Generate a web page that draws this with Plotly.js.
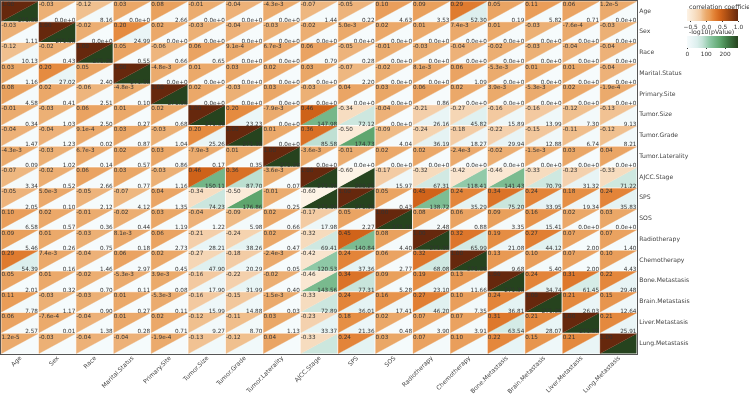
<!DOCTYPE html>
<html><head><meta charset="utf-8">
<script src="https://cdn.plot.ly/plotly-3.0.1.min.js"></script>
<style>html,body{margin:0;padding:0;background:#fff;overflow:hidden}#chart{filter:blur(0.3px)}</style>
</head><body><div id="chart" style="width:749px;height:396px"></div>
<script>
const variables = ["Age","Sex","Race","Marital.Status","Primary.Site","Tumor.Size","Tumor.Grade","Tumor.Laterality","AJCC.Stage","SPS","SOS","Radiotherapy","Chemotherapy","Bone.Metastasis","Brain.Metastasis","Liver.Metastasis","Lung.Metastasis"];
const Z = "0.0e+0";
const corrLabels = [
["1.00","-0.03","-0.12","0.03","0.08","-0.01","-0.04","-4.3e-3","-0.07","-0.05","0.10","0.09","0.29","0.05","0.11","0.06","1.2e-5"],
["-0.03","1.00","-0.02","0.20","0.02","-0.03","-0.04","-0.03","-0.02","5.0e-3","0.02","0.01","7.4e-3","0.01","-0.03","-7.6e-4","-0.03"],
["-0.12","-0.02","1.00","0.05","-0.06","0.06","9.1e-4","6.7e-3","0.06","-0.05","-0.01","-0.03","-0.04","-0.02","-0.03","-0.04","-0.04"],
["0.03","0.20","0.05","1.00","-4.8e-3","0.01","0.03","0.02","0.03","-0.07","-0.02","8.1e-3","0.06","-5.3e-3","0.01","0.01","-0.04"],
["0.08","0.02","-0.06","-4.8e-3","1.00","0.02","-0.03","0.03","-0.03","0.04","0.03","0.06","0.02","3.9e-3","-5.3e-3","0.02","-1.9e-4"],
["-0.01","-0.03","0.06","0.01","0.02","1.00","0.20","-7.9e-3","0.46","-0.34","-0.04","-0.21","-0.27","-0.16","-0.16","-0.12","-0.13"],
["-0.04","-0.04","9.1e-4","0.03","-0.03","0.20","1.00","0.01","0.36","-0.50","-0.09","-0.24","-0.18","-0.22","-0.15","-0.11","-0.12"],
["-4.3e-3","-0.03","6.7e-3","0.02","0.03","-7.9e-3","0.01","1.00","-3.6e-3","-0.01","0.02","0.02","-2.4e-3","-0.02","-1.5e-3","0.03","0.04"],
["-0.07","-0.02","0.06","0.03","-0.03","0.46","0.36","-3.6e-3","1.00","-0.60","-0.17","-0.32","-0.42","-0.46","-0.33","-0.23","-0.33"],
["-0.05","5.0e-3","-0.05","-0.07","0.04","-0.34","-0.50","-0.01","-0.60","1.00","0.05","0.45","0.24","0.34","0.24","0.18","0.24"],
["0.10","0.02","-0.01","-0.02","0.03","-0.04","-0.09","0.02","-0.17","0.05","1.00","0.08","0.06","0.09","0.16","0.02","0.03"],
["0.09","0.01","-0.03","8.1e-3","0.06","-0.21","-0.24","0.02","-0.32","0.45","0.08","1.00","0.32","0.19","0.27","0.07","0.07"],
["0.29","7.4e-3","-0.04","0.06","0.02","-0.27","-0.18","-2.4e-3","-0.42","0.24","0.06","0.32","1.00","0.13","0.10","0.07","0.10"],
["0.05","0.01","-0.02","-5.3e-3","3.9e-3","-0.16","-0.22","-0.02","-0.46","0.34","0.09","0.19","0.13","1.00","0.24","0.31","0.22"],
["0.11","-0.03","-0.03","0.01","-5.3e-3","-0.16","-0.15","-1.5e-3","-0.33","0.24","0.16","0.27","0.10","0.24","1.00","0.21","0.15"],
["0.06","-7.6e-4","-0.04","0.01","0.02","-0.12","-0.11","0.03","-0.23","0.18","0.02","0.07","0.07","0.31","0.21","1.00","0.21"],
["1.2e-5","-0.03","-0.04","-0.04","-1.9e-4","-0.13","-0.12","0.04","-0.33","0.24","0.03","0.07","0.10","0.22","0.15","0.21","1.00"]
];
const pLabels = [
["271.38",Z,"8.16",Z,"2.66",Z,Z,Z,"1.44","0.22","4.63","3.53","52.30","0.19","5.82","0.71",Z],
["1.11","271.38",Z,"24.99",Z,Z,Z,Z,Z,Z,Z,Z,Z,Z,Z,Z,Z],
["10.13","0.43","271.38","0.55","0.66","0.65",Z,Z,"0.79","0.28",Z,Z,Z,Z,Z,Z,Z],
["1.16","27.02","2.40","271.38",Z,Z,Z,Z,Z,"2.20",Z,Z,"1.09",Z,Z,Z,Z],
["4.58","0.41","2.51","0.10","271.38",Z,Z,Z,Z,Z,Z,"0.86",Z,Z,Z,Z,Z],
["0.34","1.03","2.50","0.27","0.68","271.38","23.23",Z,"147.98","72.12",Z,"26.16","45.82","15.89","13.99","7.30","9.13"],
["1.47","1.23","0.02","0.87","1.04","25.26","271.38",Z,"85.58","174.73","4.04","36.19","18.27","29.94","12.88","6.74","8.21"],
["0.09","1.02","0.14","0.57","0.86","0.17","0.35","271.38",Z,Z,Z,Z,Z,Z,Z,Z,Z],
["3.34","0.52","2.66","0.77","1.16","150.11","87.70","0.07","271.38","269.25","15.97","67.31","118.41","141.43","70.79","31.32","71.22"],
["2.05","0.10","2.12","4.12","1.35","74.23","176.86","0.25","271.38","271.38","0.43","138.72","35.29","75.20","33.95","19.34","35.83"],
["6.58","0.57","0.36","0.44","1.19","1.22","5.98","0.66","17.98","2.27","271.38","2.48","0.88","3.35","15.41",Z,Z],
["5.46","0.26","0.75","0.18","2.73","28.21","38.26","0.47","69.41","140.84","4.40","271.38","65.99","21.08","44.12","2.00","1.40"],
["54.39","0.16","1.46","2.97","0.45","47.90","20.29","0.05","120.53","37.36","2.77","68.08","271.38","9.68","5.40","2.00","4.43"],
["2.01","0.32","0.70","0.11","0.08","17.90","31.99","0.40","143.56","77.31","5.28","23.10","11.66","271.38","34.74","61.45","29.48"],
["7.78","1.17","0.90","0.27","0.11","15.99","14.88","0.03","72.89","36.01","17.41","46.20","7.35","36.81","271.38","26.03","12.64"],
["2.57","0.01","1.38","0.28","0.71","9.27","8.70","1.13","33.37","21.36","0.48","3.90","3.91","63.54","28.07","271.38","25.91"],
["2.3e-4","0.83","1.36","1.47","3.5e-3","11.11","10.19","1.66","73.32","37.90","1.08","3.29","6.38","31.53","14.63","27.95","271.38"]
];
const corrRange = [-0.6, 1.0];
const pRange = [0, 271.38];
const corrScale = [[0,"#fdf3e6"],[0.15,"#f7dfc4"],[0.27,"#f3cba3"],[0.3,"#f0c08f"],[0.375,"#ebaa6c"],[0.44,"#e99e5a"],[0.5,"#e58b40"],[0.56,"#df7a2e"],[0.66,"#cf6219"],[0.8,"#a54a12"],[1,"#66280d"]];
const pScale = [[0,"#f6fbfc"],[0.1,"#e9f5f6"],[0.2,"#dcefed"],[0.3,"#c5e3d8"],[0.45,"#8cc7a4"],[0.55,"#74b688"],[0.65,"#5ea56d"],[0.8,"#3f7a45"],[1,"#26431e"]];
const font = "DejaVu Sans, sans-serif";

function hex(c){return [1,3,5].map(i=>parseInt(c.substr(i,2),16));}
function colorAt(scale,v,range){
  const t=Math.max(0,Math.min(1,(v-range[0])/(range[1]-range[0])));
  for(let i=1;i<scale.length;i++){
    if(t<=scale[i][0]){
      const f=(t-scale[i-1][0])/(scale[i][0]-scale[i-1][0]);
      const a=hex(scale[i-1][1]),b=hex(scale[i][1]);
      return "rgb("+a.map((q,k)=>Math.round(q+(b[k]-q)*f)).join(",")+")";
    }
  }
  return scale[scale.length-1][1];
}
const n=variables.length, gapX=0.014, gapY=0.024;
const pxX=1/37.44, pxY=1/20.76;
const traces=[];
const txC={x:[],y:[],text:[]}, txP={x:[],y:[],text:[]};
for(let r=0;r<n;r++){for(let c=0;c<n;c++){
  const x0=c+gapX,x1=c+1-gapX,y0=r+gapY,y1=r+1-gapY;
  const cp=colorAt(pScale,Number(pLabels[r][c]),pRange), cc=colorAt(corrScale,Number(corrLabels[r][c]),corrRange);
  traces.push({type:"scatter",mode:"lines",x:[x1,x1,x0,x1],y:[y0,y1,y1,y0],fill:"toself",
    fillcolor:cp,line:{width:0},hoverinfo:"skip",showlegend:false});
  traces.push({type:"scatter",mode:"lines",x:[x0,x1,x0,x0],y:[y0,y0,y1,y0],fill:"toself",
    fillcolor:cc,line:{width:0.4,color:cc},hoverinfo:"skip",showlegend:false});
  txC.x.push(c+0.5*pxX);txC.y.push(r+1*pxY);txC.text.push(corrLabels[r][c]);
  txP.x.push(c+1-0.5*pxX);txP.y.push(r+1+1.5*pxY);txP.text.push(pLabels[r][c]);
}}
const txtFont={family:font,size:5.7,color:"#333"};
traces.push({type:"scatter",mode:"text",x:txC.x,y:txC.y,text:txC.text,textposition:"bottom right",textfont:txtFont,cliponaxis:false,hoverinfo:"skip",showlegend:false});
traces.push({type:"scatter",mode:"text",x:txP.x,y:txP.y,text:txP.text,textposition:"top left",textfont:txtFont,cliponaxis:false,hoverinfo:"skip",showlegend:false});
const cbBase={orientation:"h",xanchor:"left",yanchor:"top",xref:"paper",yref:"paper",thickness:11.5,thicknessmode:"pixels",lenmode:"pixels",len:51,outlinewidth:0,
  ticks:"outside",ticklen:1.5,tickwidth:1,tickcolor:"#333",tickfont:{family:font,size:5.8,color:"#333"},xpad:0,ypad:0};
const cbX=(688-1)/636.5;
traces.push({type:"scatter",mode:"markers",x:txC.x,y:txC.y,hoverinfo:"skip",showlegend:false,
  marker:{size:1,opacity:0,color:corrLabels.flat().map(Number),colorscale:corrScale,cmin:corrRange[0],cmax:corrRange[1],showscale:true,
    colorbar:Object.assign({},cbBase,{x:cbX,y:1-8/353,tickvals:[-0.5,0,0.5,1],ticktext:["−0.5","0.0","0.5","1.0"]})}});
traces.push({type:"scatter",mode:"markers",x:txC.x,y:txC.y,hoverinfo:"skip",showlegend:false,
  marker:{size:1,opacity:0,color:pLabels.flat().map(Number),colorscale:pScale,cmin:pRange[0],cmax:pRange[1],showscale:true,
    colorbar:Object.assign({},cbBase,{x:cbX,y:1-35/353,tickvals:[0,100,200],ticktext:["0","100","200"]})}});
const centers=variables.map((_,i)=>i+0.5);
const annoBase={xref:"paper",yref:"paper",xanchor:"left",yanchor:"middle",showarrow:false,x:cbX,font:{family:font,size:6.2,color:"#333"}};
const layout={width:749,height:396,margin:{l:1,r:111.5,t:1,b:42,pad:0},paper_bgcolor:"#fff",plot_bgcolor:"#fff",showlegend:false,
  font:{family:font,color:"#333"},
  annotations:[Object.assign({},annoBase,{text:"correlation coefficient",y:1-5/353}),Object.assign({},annoBase,{text:"-log10(pValue)",y:1-31/353})],
  xaxis:{range:[0,n],tickvals:centers,ticktext:variables,tickangle:-45,ticks:"",ticklabelstandoff:-3,showgrid:false,zeroline:false,showline:true,mirror:true,linecolor:"#555",linewidth:1,layer:"above traces",tickfont:{family:font,size:6.1,color:"#444"}},
  yaxis:{range:[n,0],side:"right",tickvals:centers,ticktext:variables,ticks:"",ticklabelshift:1,showgrid:false,zeroline:false,showline:true,mirror:true,linecolor:"#555",linewidth:1,layer:"above traces",tickfont:{family:font,size:6.1,color:"#444"}}
};
Plotly.newPlot("chart",traces,layout,{displayModeBar:false,staticPlot:true});
</script></body></html>
